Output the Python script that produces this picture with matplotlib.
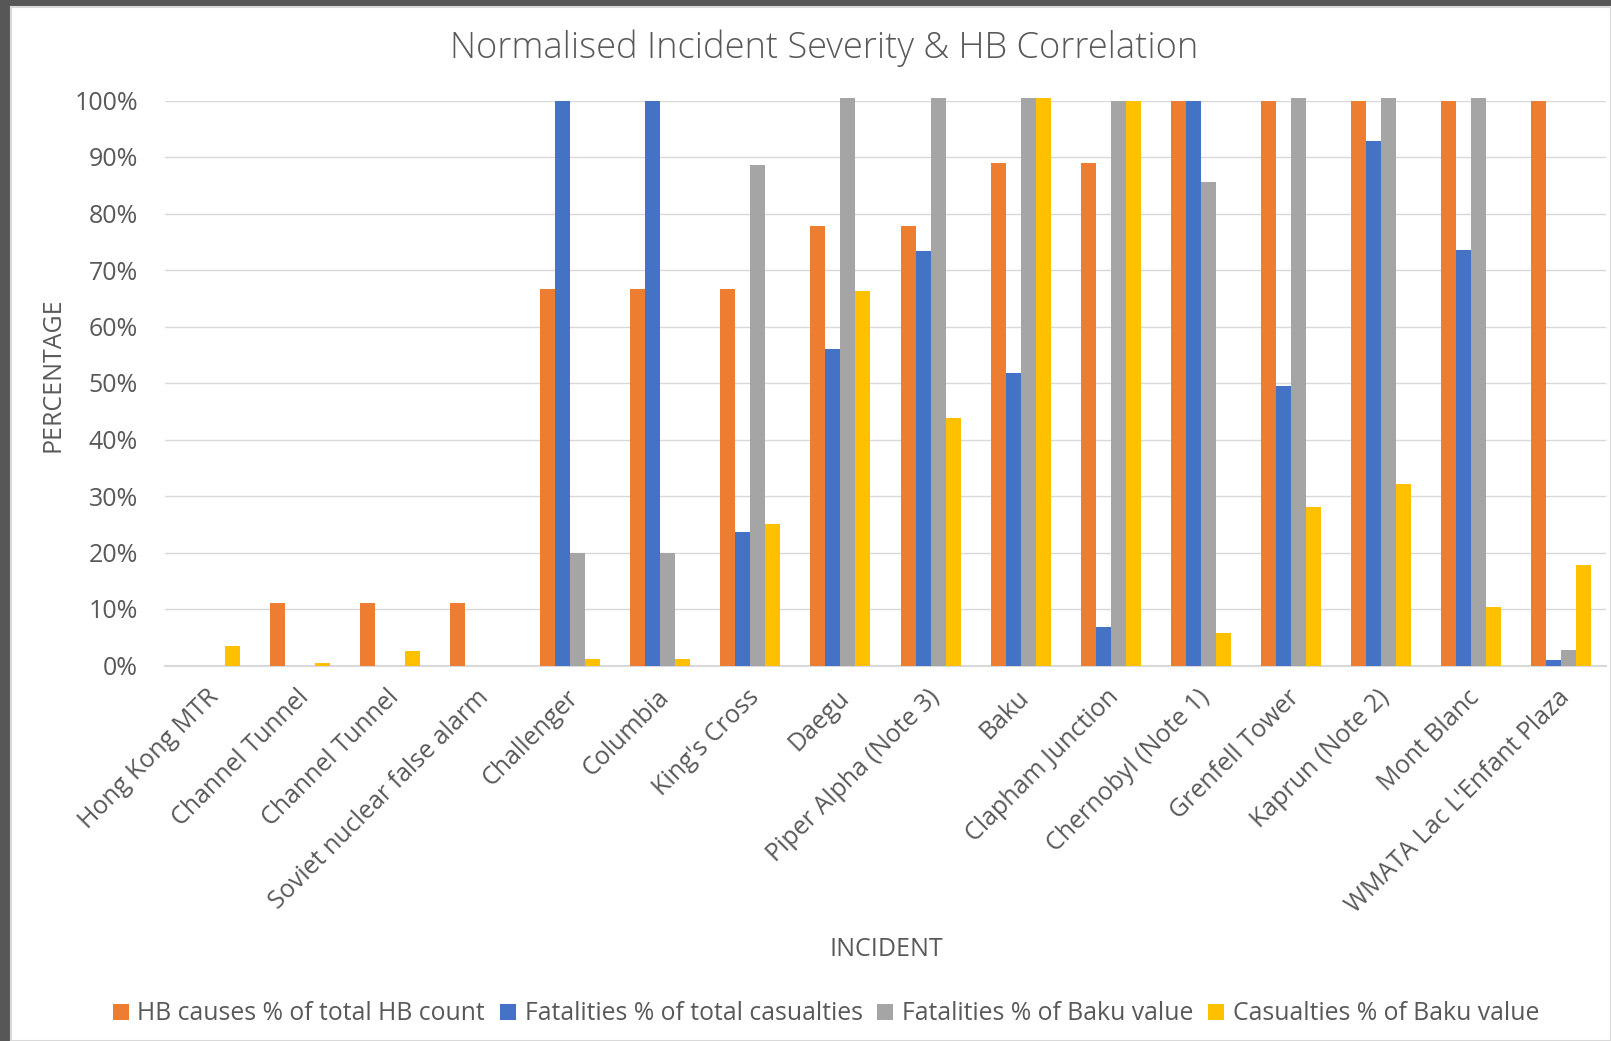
import matplotlib
matplotlib.use("Agg")
import matplotlib.pyplot as plt
import matplotlib.transforms as mtransforms
import numpy as np
from matplotlib.ticker import FuncFormatter

categories = ["Hong Kong MTR", "Channel Tunnel", "Channel Tunnel", "Soviet nuclear false alarm",
              "Challenger", "Columbia", "King's Cross", "Daegu", "Piper Alpha (Note 3)", "Baku",
              "Clapham Junction", "Chernobyl (Note 1)", "Grenfell Tower", "Kaprun (Note 2)",
              "Mont Blanc", "WMATA Lac L'Enfant Plaza"]

hb_causes = [0, 11.1, 11.1, 11.1, 66.7, 66.7, 66.7, 77.8, 77.8, 88.9, 88.9, 100, 100, 100, 100, 100]
fat_total = [0, 0, 0, 0, 100, 100, 23.6, 56.0, 73.4, 51.8, 6.8, 100, 49.4, 92.8, 73.6, 0.9]
fat_baku = [0, 0, 0, 0, 20.0, 20.0, 88.5, 100.4, 100.4, 100.4, 100, 85.6, 100.4, 100.4, 100.4, 2.8]
cas_baku = [3.4, 0.4, 2.6, 0, 1.2, 1.2, 25.1, 66.2, 43.8, 100.4, 100, 5.7, 28.1, 32.1, 10.3, 17.7]

series_names = ["HB causes % of total HB count", "Fatalities % of total casualties",
                "Fatalities % of Baku value", "Casualties % of Baku value"]
series_values = [hb_causes, fat_total, fat_baku, cas_baku]
colors = ["#ED7D31", "#4472C4", "#A5A5A5", "#FFC000"]
yticks = [0, 10, 20, 30, 40, 50, 60, 70, 80, 90, 100]

FONT = "Open Sans"
TXT = "#595959"
plt.rcParams["font.family"] = [FONT, "DejaVu Sans"]

W, H = 1611, 1041
fig = plt.figure(figsize=(W / 100, H / 100), dpi=100, facecolor="#575757")

# chart area (white) with light border, as in the screenshot
bg = fig.add_axes([10.5 / W, 0, 1 - 10.5 / W, (H - 6.5) / H], zorder=-10)
bg.set_xticks([])
bg.set_yticks([])
bg.set_facecolor("white")
for s in bg.spines.values():
    s.set_color("#D9D9D9")
    s.set_linewidth(1.5)

left, right = 165 / W, 1606 / W
bottom, top = (H - 665.5) / H, (H - 100.5) / H
ax = fig.add_axes([left, bottom, right - left, top - bottom])
ax.set_facecolor("none")

x = np.arange(len(categories))
w = 1 / 6
for k, (name, vals, c) in enumerate(zip(series_names, series_values, colors)):
    ax.bar(x + (k - 1.5) * w, vals, width=w, color=c, label=name, zorder=3, clip_on=False)

ax.set_xlim(-0.5, len(categories) - 0.5)
ax.set_ylim(0, 100)
ax.set_yticks(yticks)
ax.yaxis.set_major_formatter(FuncFormatter(lambda v, p: f"{int(round(v))}%"))
ax.grid(axis="y", color="#D9D9D9", lw=1.0, zorder=0)
for s in ["top", "right", "left"]:
    ax.spines[s].set_visible(False)
ax.spines["bottom"].set_color("#D9D9D9")
ax.spines["bottom"].set_linewidth(1.5)
ax.spines["bottom"].set_zorder(2)
ax.tick_params(axis="y", length=0, pad=19.5, labelsize=18, labelcolor=TXT)
ax.tick_params(axis="x", length=0, pad=14, labelsize=18, labelcolor=TXT)
ax.set_xticks(x)
ax.set_xticklabels(categories, rotation=45, ha="right", va="top", rotation_mode="anchor")
shift = mtransforms.ScaledTranslation(-4 / 100, 0, fig.dpi_scale_trans)
for lab in ax.get_xticklabels():
    lab.set_transform(lab.get_transform() + shift)

ax.set_ylabel("PERCENTAGE", fontsize=18, color=TXT)
ax.yaxis.set_label_coords((53 - 165) / (1606 - 165), 0.514)
ax.yaxis.label.set_va("center")

fig.text(886 / W, 1 - 950 / H, "INCIDENT", fontsize=18, color=TXT, ha="center", va="center")
fig.text(824 / W, 1 - 48 / H, "Normalised Incident Severity & HB Correlation", fontsize=26.1,
         color=TXT, ha="center", va="center", fontweight="light")

leg = fig.legend(loc="center", bbox_to_anchor=(826 / W, 1 - 1014 / H), ncol=4, frameon=False,
                 fontsize=17.8, labelcolor=TXT, handlelength=0.65, handleheight=0.65,
                 handletextpad=0.35, columnspacing=0.6)

fig.savefig("out.png", dpi=100, facecolor=fig.get_facecolor())
